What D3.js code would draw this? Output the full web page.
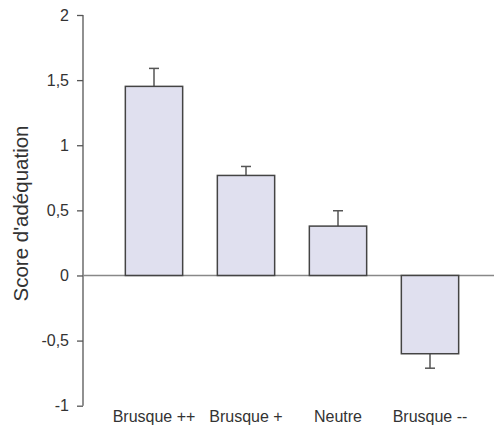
<!DOCTYPE html>
<html>
<head>
<meta charset="utf-8">
<script src="https://cdn.jsdelivr.net/npm/d3@7"></script>
<style>
  html, body { margin: 0; padding: 0; background: #fff; }
  svg { display: block; }
  text { font-family: "Liberation Sans", Arial, sans-serif; fill: #333; }
</style>
</head>
<body>
<svg id="chart" width="494" height="430"></svg>
<script>
const categories = ["Brusque ++", "Brusque +", "Neutre", "Brusque --"];
const values = [1.452, 0.768, 0.379, -0.601];
const errors = [0.138, 0.069, 0.118, 0.111];
const yTicks = [-1, -0.5, 0, 0.5, 1, 1.5, 2];
const yTitle = "Score d'adéquation";

const svg = d3.select("#chart");
const W = 494, H = 430;

const y = d3.scaleLinear().domain([-1, 2]).range([405.7, 15]);
const x = d3.scaleBand().domain(categories).range([108, 476])
  .paddingInner(0.377).paddingOuter(0.1885);

const axisX = 83;
const fmt = d => String(d).replace(".", ",");

// y axis
const yAxis = svg.append("g").attr("transform", `translate(${axisX},0)`)
  .call(d3.axisLeft(y).tickValues(yTicks).tickFormat(fmt).tickSize(6).tickPadding(8));
yAxis.select(".domain").attr("stroke", "#555").attr("stroke-width", 1.3)
  .attr("d", `M0,${y(2)}V${y(-1)}`);
yAxis.selectAll(".tick line").attr("stroke", "#555").attr("stroke-width", 1.3);
yAxis.selectAll(".tick text").attr("font-size", 16).attr("fill", "#333")
  .attr("font-family", '"Liberation Sans", Arial, sans-serif');

// zero line
svg.append("line")
  .attr("x1", axisX).attr("x2", W)
  .attr("y1", y(0)).attr("y2", y(0))
  .attr("stroke", "#888").attr("stroke-width", 1.5);

// error bars
const eg = svg.append("g");
categories.forEach((c, i) => {
  const cx = x(c) + x.bandwidth() / 2;
  const v = values[i];
  const tip = v >= 0 ? v + errors[i] : v - errors[i];
  eg.append("line").attr("x1", cx).attr("x2", cx)
    .attr("y1", y(v)).attr("y2", y(tip))
    .attr("stroke", "#555").attr("stroke-width", 1.5);
  eg.append("line").attr("x1", cx - 5).attr("x2", cx + 5)
    .attr("y1", y(tip)).attr("y2", y(tip))
    .attr("stroke", "#555").attr("stroke-width", 1.5);
});

// bars
svg.append("g").selectAll("rect").data(categories).join("rect")
  .attr("x", d => x(d))
  .attr("width", x.bandwidth())
  .attr("y", (d, i) => y(Math.max(0, values[i])))
  .attr("height", (d, i) => Math.abs(y(values[i]) - y(0)))
  .attr("fill", "#e0e0ef")
  .attr("stroke", "#444")
  .attr("stroke-width", 1.5);

// category labels
svg.append("g").selectAll("text").data(categories).join("text")
  .attr("x", d => x(d) + x.bandwidth() / 2)
  .attr("y", 421.5)
  .attr("text-anchor", "middle")
  .attr("font-size", 16)
  .text(d => d);

// y title
svg.append("text")
  .attr("transform", `translate(28,213.5) rotate(-90)`)
  .attr("text-anchor", "middle")
  .attr("font-size", 20.5)
  .text(yTitle);
</script>
</body>
</html>
